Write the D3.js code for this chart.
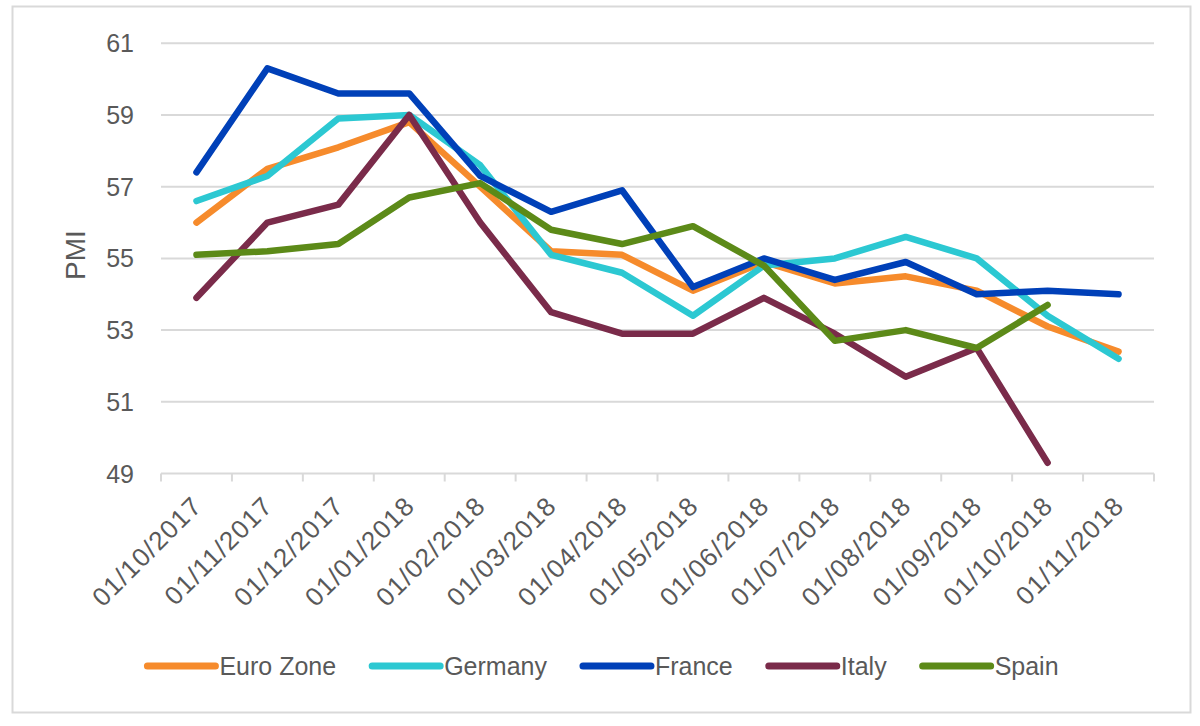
<!DOCTYPE html>
<html>
<head>
<meta charset="utf-8">
<script src="https://cdn.jsdelivr.net/npm/d3@7/dist/d3.min.js"></script>
<style>
  html, body { margin: 0; padding: 0; background: #fff; }
  svg { display: block; }
  text { font-family: "Liberation Sans", Arial, sans-serif; fill: #595959; }
</style>
</head>
<body>
<svg id="chart" width="1200" height="726"></svg>
<script>
const dates = ["01/10/2017","01/11/2017","01/12/2017","01/01/2018","01/02/2018","01/03/2018","01/04/2018","01/05/2018","01/06/2018","01/07/2018","01/08/2018","01/09/2018","01/10/2018","01/11/2018"];
const euroZone = [56.0, 57.5, 58.1, 58.8, 57.0, 55.2, 55.1, 54.1, 54.9, 54.3, 54.5, 54.1, 53.1, 52.4];
const germany  = [56.6, 57.3, 58.9, 59.0, 57.6, 55.1, 54.6, 53.4, 54.8, 55.0, 55.6, 55.0, 53.4, 52.2];
const france   = [57.4, 60.3, 59.6, 59.6, 57.3, 56.3, 56.9, 54.2, 55.0, 54.4, 54.9, 54.0, 54.1, 54.0];
const italy    = [53.9, 56.0, 56.5, 59.0, 56.0, 53.5, 52.9, 52.9, 53.9, 52.9, 51.7, 52.5, 49.3, null];
const spain    = [55.1, 55.2, 55.4, 56.7, 57.1, 55.8, 55.4, 55.9, 54.8, 52.7, 53.0, 52.5, 53.7, null];
const seriesNames = ["Euro Zone","Germany","France","Italy","Spain"];
const seriesColors = ["#F68B2C","#2CC8D2","#0040B8","#7A2B4A","#5C8A18"];
const yTicks = [49, 51, 53, 55, 57, 59, 61];

const series = [euroZone, germany, france, italy, spain].map((vals, i) => ({
  name: seriesNames[i], color: seriesColors[i], values: vals
}));

const svg = d3.select("#chart");

// outer border
svg.append("rect").attr("x", 12.5).attr("y", 6.5).attr("width", 1178).attr("height", 706)
  .attr("fill", "#fff").attr("stroke", "#d9d9d9").attr("stroke-width", 2);

const plotLeft = 161, plotRight = 1154, plotTop = 43.3, plotBottom = 473.5;

const x = d3.scaleBand().domain(dates).range([plotLeft, plotRight]).padding(0);
const y = d3.scaleLinear().domain([49, 61]).range([plotBottom, plotTop]);

// gridlines
svg.append("g").selectAll("line").data(yTicks.filter(t => t !== 49)).join("line")
  .attr("x1", plotLeft).attr("x2", plotRight)
  .attr("y1", d => y(d)).attr("y2", d => y(d))
  .attr("stroke", "#d9d9d9").attr("stroke-width", 2);

// y axis labels
svg.append("g").selectAll("text").data(yTicks).join("text")
  .attr("x", 134).attr("y", d => y(d)).attr("dy", "0.36em")
  .attr("text-anchor", "end").attr("font-size", 25).text(d => d);

// y title
svg.append("text").attr("transform", "translate(85,255) rotate(-90)")
  .attr("text-anchor", "middle").attr("font-size", 28).text("PMI");

// x axis line & ticks
svg.append("line").attr("x1", plotLeft).attr("x2", plotRight).attr("y1", plotBottom).attr("y2", plotBottom)
  .attr("stroke", "#d9d9d9").attr("stroke-width", 2);
const bounds = dates.map(d => x(d)).concat([plotRight]);
svg.append("g").selectAll("line").data(bounds).join("line")
  .attr("x1", d => d).attr("x2", d => d).attr("y1", plotBottom).attr("y2", plotBottom + 8)
  .attr("stroke", "#d9d9d9").attr("stroke-width", 2);

// x labels
svg.append("g").selectAll("text").data(dates).join("text")
  .attr("transform", d => `translate(${x(d) + x.bandwidth()/2 + 7},${plotBottom + 34}) rotate(-45)`)
  .attr("text-anchor", "end").attr("font-size", 26).attr("letter-spacing", "1.2px")
  .text(d => d);

// lines
const line = d3.line()
  .defined(d => d.v != null)
  .x(d => x(d.date) + x.bandwidth()/2)
  .y(d => y(d.v));

svg.append("g").selectAll("path").data(series).join("path")
  .attr("d", s => line(s.values.map((v, i) => ({date: dates[i], v}))))
  .attr("fill", "none").attr("stroke", s => s.color).attr("stroke-width", 6.5)
  .attr("stroke-linejoin", "round").attr("stroke-linecap", "round");

// legend
const lg = svg.append("g");
let cx = 0;
series.forEach((s, i) => {
  const g = lg.append("g");
  g.append("line").attr("x1", cx).attr("x2", cx + 68).attr("y1", 666).attr("y2", 666)
    .attr("stroke", s.color).attr("stroke-width", 7).attr("stroke-linecap", "round");
  const t = g.append("text").attr("x", cx + 72).attr("y", 675).attr("font-size", 25).text(s.name);
  const w = t.node().getComputedTextLength();
  cx += 72 + w + 36;
});
const totalW = cx - 36;
lg.attr("transform", `translate(${603 - totalW/2},0)`);
</script>
</body>
</html>
